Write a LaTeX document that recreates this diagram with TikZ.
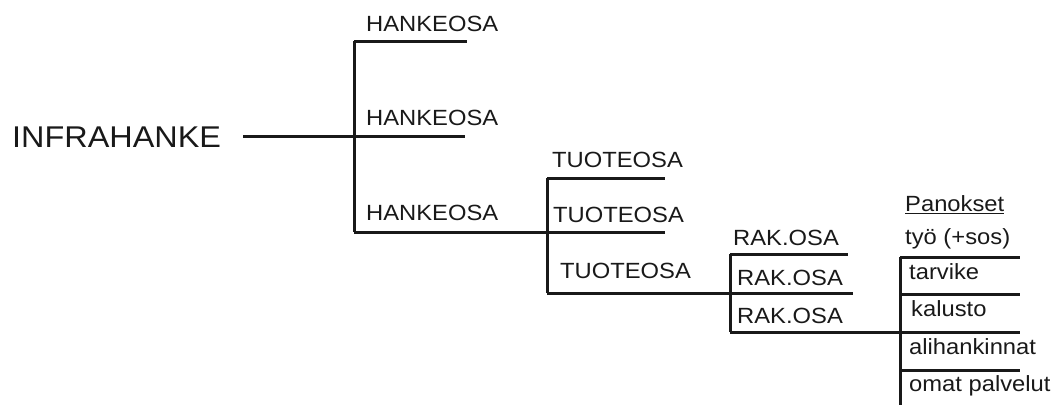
\documentclass[tikz,border=0pt]{standalone}
\usepackage{fontspec}
\setmainfont[FakeStretch=1.08]{Liberation Sans}
\usetikzlibrary{calc}

\tikzset{
  lbl/.style={anchor=base west, inner sep=0pt, font=\fontsize{22}{24}\selectfont, text=black!90},
  branch/.style={line width=3pt, black!90}
}

\begin{document}
\begin{tikzpicture}[x=1pt,y=-1pt]
\useasboundingbox (0,0) rectangle (1064,405);
% juuri
\node [lbl, font=\fontsize{30}{32}\selectfont] (infra) at (12,147) {INFRAHANKE};
\coordinate (infraend) at (243,136);
% hankeosat
\node [lbl] (h1) at (366,31) {HANKEOSA};
\node [lbl] (h2) at (366,125) {HANKEOSA};
\node [lbl] (h3) at (366,220) {HANKEOSA};
\coordinate (ha) at (354,41); \coordinate (hb) at (354,136); \coordinate (hc) at (354,232);
\coordinate (ha') at (467,41); \coordinate (hb') at (465,136);
% tuoteosat
\node [lbl] (t1) at (552,167) {TUOTEOSA};
\node [lbl] (t2) at (553,222) {TUOTEOSA};
\node [lbl] (t3) at (560,278) {TUOTEOSA};
\coordinate (ta) at (547,178); \coordinate (tb) at (547,232); \coordinate (tc) at (547,293);
\coordinate (ta') at (665,178); \coordinate (tb') at (665,232);
% rakennusosat
\node [lbl] (r1) at (733,245) {RAK.OSA};
\node [lbl] (r2) at (737,285) {RAK.OSA};
\node [lbl] (r3) at (737,323) {RAK.OSA};
\coordinate (ra) at (730,254); \coordinate (rb) at (730,293); \coordinate (rc) at (730,332);
\coordinate (ra') at (848,254); \coordinate (rb') at (853,293);
% panokset
\node [lbl] (pan) at (905,211) {Panokset};
\node [lbl] (p1) at (905,244) {työ (+sos)};
\node [lbl] (p2) at (909,279) {tarvike};
\node [lbl] (p3) at (911,316) {kalusto};
\node [lbl] (p4) at (909,354) {alihankinnat};
\node [lbl] (p5) at (909,391) {omat palvelut};
\draw [line width=1.2pt, black!90] ($(pan.base west)+(0,2.5)$) -- ($(pan.base east)+(0,2.5)$);
\coordinate (pa) at (900,257); \coordinate (pb) at (900,294); \coordinate (pc) at (900,332);
\coordinate (pd) at (900,370); \coordinate (pe) at (900,405);
\coordinate (pa') at (1020,257); \coordinate (pb') at (1020,294);
\coordinate (pc') at (1020,332); \coordinate (pd') at (1020,370);
% viivat
\draw [branch] (infraend) -- (hb);
\draw [branch] (ha) -- (hc);
\draw [branch] (ha) -- (ha');
\draw [branch] (hb) -- (hb');
\draw [branch] (hc) -- (tb);
\draw [branch] (ta) -- (tc);
\draw [branch] (ta) -- (ta');
\draw [branch] (tb) -- (tb');
\draw [branch] (tc) -- (rb);
\draw [branch] (ra) -- (rc);
\draw [branch] (ra) -- (ra');
\draw [branch] (rb) -- (rb');
\draw [branch] (rc) -- (pc);
\draw [branch] (pa) -- (pe);
\draw [branch] (pa) -- (pa');
\draw [branch] (pb) -- (pb');
\draw [branch] (pc) -- (pc');
\draw [branch] (pd) -- (pd');
\end{tikzpicture}
\end{document}
